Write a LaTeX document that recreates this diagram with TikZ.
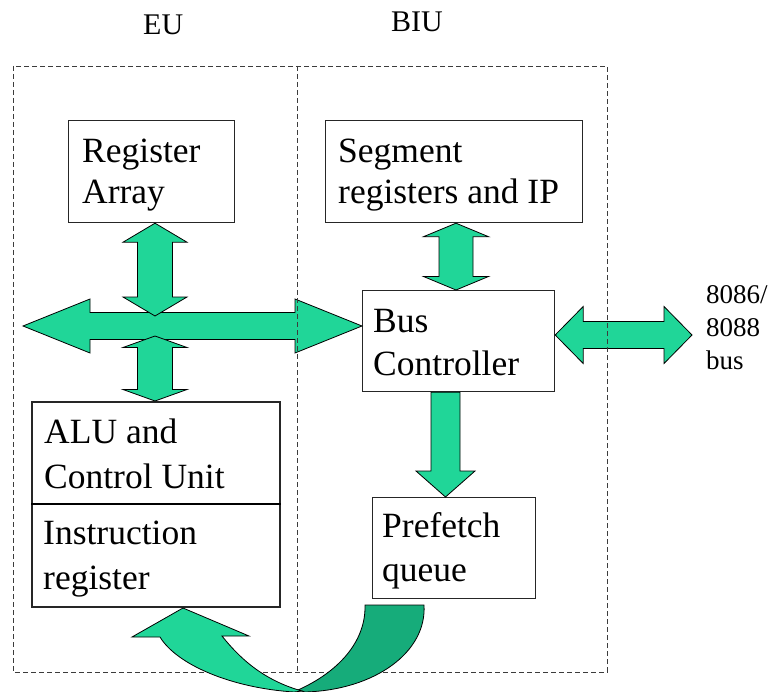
\documentclass[tikz,border=0pt]{standalone}
\usepackage{fontspec}
\setmainfont{Liberation Serif}
\usetikzlibrary{calc}

\definecolor{arrowgreen}{RGB}{32,214,152}
\definecolor{arrowdark}{RGB}{22,172,122}
\definecolor{framegrey}{RGB}{60,60,60}

% vertical double-headed block arrow: top tip, bottom tip, shaft half, head half, head length
\newcommand\dblV[5]{%
  \draw[blockarrow] let \p1=(#1), \p2=(#2) in
    (\x1,\y1) -- (\x1+#4pt,\y1-#5pt) -- (\x1+#3pt,\y1-#5pt) -- (\x1+#3pt,\y2+#5pt)
    -- (\x1+#4pt,\y2+#5pt) -- (\x1,\y2) -- (\x1-#4pt,\y2+#5pt) -- (\x1-#3pt,\y2+#5pt)
    -- (\x1-#3pt,\y1-#5pt) -- (\x1-#4pt,\y1-#5pt) -- cycle;}
% horizontal double-headed block arrow: left tip, right tip, shaft half, head half, head length
\newcommand\dblH[5]{%
  \draw[blockarrow] let \p1=(#1), \p2=(#2) in
    (\x1,\y1) -- (\x1+#5pt,\y1+#4pt) -- (\x1+#5pt,\y1+#3pt) -- (\x2-#5pt,\y1+#3pt)
    -- (\x2-#5pt,\y1+#4pt) -- (\x2,\y1) -- (\x2-#5pt,\y1-#4pt) -- (\x2-#5pt,\y1-#3pt)
    -- (\x1+#5pt,\y1-#3pt) -- (\x1+#5pt,\y1-#4pt) -- cycle;}
% downward single-headed block arrow: tail, tip, shaft half, head half, head length
\newcommand\sglV[5]{%
  \draw[blockarrow] let \p1=(#1), \p2=(#2) in
    (\x1-#3pt,\y1) -- (\x1+#3pt,\y1) -- (\x1+#3pt,\y2+#5pt) -- (\x1+#4pt,\y2+#5pt)
    -- (\x1,\y2) -- (\x1-#4pt,\y2+#5pt) -- (\x1-#3pt,\y2+#5pt) -- cycle;}

\begin{document}
\begin{tikzpicture}[x=1pt,y=-1pt,
  unitbox/.style={draw=black!85,line width=1.2pt,fill=white,inner sep=0pt,anchor=north west},
  txt/.style={inner sep=0pt,anchor=base west,font=\fontsize{35.5pt}{42pt}\selectfont},
  head/.style={inner sep=0pt,anchor=base west,font=\fontsize{30pt}{36pt}\selectfont},
  buslbl/.style={inner sep=0pt,anchor=base west,font=\fontsize{27pt}{33pt}\selectfont},
  blockarrow/.style={draw=black,line width=0.8pt,fill=arrowgreen,line join=miter},
  frame/.style={draw=framegrey,line width=0.9pt,dash pattern=on 5pt off 3pt}]

\useasboundingbox (0,0) rectangle (778,692);

% unit headings
\node[head] (eu) at (143,35) {EU};
\node[head] (biu) at (391,32) {BIU};

% functional blocks
\node[unitbox,minimum width=166pt,minimum height=102pt] (ra) at (68,120) {};
\node[unitbox,minimum width=257pt,minimum height=102pt] (seg) at (325,120) {};
\node[unitbox,minimum width=192pt,minimum height=101pt] (bc) at (362,290) {};
\node[unitbox,minimum width=248pt,minimum height=205pt,line width=1.5pt] (alu) at (31,401) {};
\node[unitbox,minimum width=163pt,minimum height=101pt] (pq) at (372,497) {};
\draw[line width=1.2pt] (alu.west |- 0,504) coordinate (sepL) -- (alu.east |- sepL) coordinate (sepR);

% block texts
\node[txt] (t1) at (82,163) {Register};
\node[txt] (t2) at (82,204) {Array};
\node[txt] (t3) at (338,163) {Segment};
\node[txt] (t4) at (338,204) {registers and IP};
\node[txt] (t5) at (373,332) {Bus};
\node[txt] (t6) at (373,375) {Controller};
\node[txt] (t7) at (44,443) {ALU and};
\node[txt] (t8) at (44,488) {Control Unit};
\node[txt] (t9) at (43,544) {Instruction};
\node[txt] (t10) at (43,589) {register};
\node[txt] (t11) at (382,537) {Prefetch};
\node[txt] (t12) at (382,581) {queue};

% external bus label
\node[buslbl] (b1) at (706,303) {8086/};
\node[buslbl] (b2) at (706,336) {8088};
\node[buslbl] (b3) at (706,369) {bus};

% anchor points of the internal bus
\coordinate (busL) at (23,326);
\coordinate (vx) at (155,326);
\coordinate (extR) at (692,335);
\coordinate (qx) at (445.5,0);

% internal bus and its branches
\dblH{busL}{bc.west |- busL}{13.5}{27}{67}
\dblV{ra.south -| vx}{155,316}{17.5}{32}{19}
\dblV{155,336}{alu.north -| vx}{17.5}{32}{11.5}
\dblV{seg.south -| 456,0}{bc.north -| 456,0}{17}{32.5}{13.5}
\dblH{bc.east |- extR}{extR}{13.5}{28.5}{28}
\sglV{bc.south -| qx}{pq.north -| qx}{14.5}{29.5}{26}

% EU / BIU boundaries
\draw[frame] (13,66) rectangle (607,672);
\draw[frame] (297.5,66) -- (297.5,672);

% instruction transfer from the queue back to the EU
\fill[arrowdark,draw=black,line width=0.8pt]
  (365,605) -- (424,605) .. controls (427,652) and (375,690) .. (305,692)
  -- (298,690) .. controls (338,672) and (366,642) .. (365,605) -- cycle;
\fill[arrowgreen,draw=black,line width=0.8pt,line join=miter]
  (183,608) -- (249,636) -- (222,636) .. controls (245,665) and (270,682) .. (302,691)
  -- (294,692) .. controls (232,688) and (177,665) .. (160,637) -- (132,637) -- cycle;
\end{tikzpicture}
\end{document}
